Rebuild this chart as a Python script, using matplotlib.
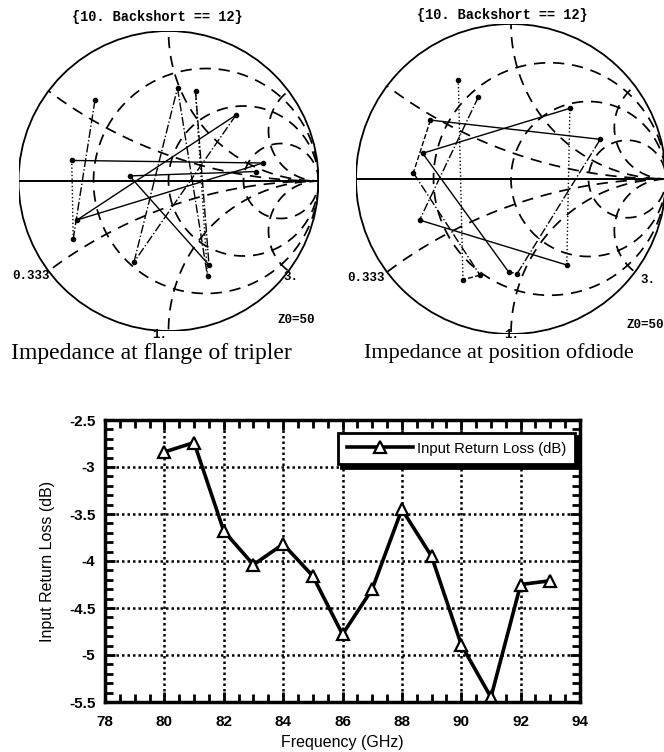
import numpy as np
import matplotlib
matplotlib.use("Agg")
import matplotlib.pyplot as plt
from matplotlib.patches import Circle
from matplotlib.ticker import MultipleLocator

# ---------------- data ----------------
freq_ghz = [80, 81, 82, 83, 84, 85, 86, 87, 88, 89, 90, 91, 92, 93]
return_loss_db = [-2.84, -2.74, -3.68, -4.04, -3.82, -4.16, -4.78, -4.30,
                  -3.45, -3.95, -4.89, -5.45, -4.25, -4.21]
x_ticks = [78, 80, 82, 84, 86, 88, 90, 92, 94]
y_ticks = [-2.5, -3, -3.5, -4, -4.5, -5, -5.5]
y_tick_labels = ['-2.5', '-3', '-3.5', '-4', '-4.5', '-5', '-5.5']

# Smith chart 1: reflection coefficient points (real, imag), in drawing order
flange_re = [-0.49, -0.635, -0.645, 0.63, -0.61, 0.45, -0.23, 0.06, 0.26, 0.18, 0.27, -0.26, 0.58]
flange_im = [0.54, -0.385, 0.137, 0.12, -0.26, 0.44, -0.54, 0.62, -0.635, 0.60, -0.56, 0.034, 0.063]
flange_styles = ['-.', ':', '-', '-', '-', '-.', '-.', '-.', ':', '-.', '-', '-']

# Smith chart 2
diode_re = [-0.21, -0.59, 0.36, 0.38, -0.57, -0.015, 0.04, 0.576, -0.52, -0.63, -0.2, -0.31, -0.34]
diode_im = [0.53, -0.265, -0.555, 0.456, 0.166, -0.6, -0.61, 0.256, 0.38, 0.04, -0.62, -0.65, 0.64]
diode_styles = ['-.', '-', ':', '-', '-', '--', '-.', '-', '--', '-.', '--', ':']

r_grid = [1/3, 1, 3]
x_grid = [1/3, 1, 3]
chart_title = "{10. Backshort == 12}"
caption_left = "Impedance at flange of tripler"
caption_right = "Impedance at position ofdiode"

W, H = 664, 752
fig = plt.figure(figsize=(W/100, H/100), dpi=100)

def fx(px):
    return px / W

def fy(py):
    return 1 - py / H

mono = dict(family='Liberation Mono', fontweight='bold')

def smith(ax_rect, re, im, styles):
    ax = fig.add_axes(ax_rect)
    ax.set_xlim(-1, 1)
    ax.set_ylim(-1, 1)
    ax.axis('off')
    boundary = Circle((0, 0), 1, fill=False, lw=1.3, color='black', zorder=3)
    ax.add_patch(boundary)
    clip = Circle((0, 0), 1, transform=ax.transData)
    t = np.linspace(0, 2*np.pi, 400)
    for r in r_grid:
        c, rad = r/(1+r), 1/(1+r)
        l, = ax.plot(c + rad*np.cos(t), rad*np.sin(t), color='black', lw=1.25,
                     dashes=(6.5, 4.5))
        l.set_clip_path(clip)
    for x in x_grid:
        for s in (1, -1):
            rad = 1/x
            l, = ax.plot(1 + rad*np.cos(t), s*rad + rad*np.sin(t), color='black',
                         lw=1.25, dashes=(6.5, 4.5))
            l.set_clip_path(clip)
    ax.plot([-1, 1], [0, 0], color='black', lw=1.4)
    for k in range(len(re) - 1):
        ax.plot(re[k:k+2], im[k:k+2], color='black', lw=1.0, linestyle=styles[k])
    ax.plot(re, im, 'o', color='black', ms=3)
    return ax

ax1 = smith([fx(18.5), fy(331), fx(300), 300/H], flange_re, flange_im, flange_styles)
ax2 = smith([fx(356), fy(334), fx(310), 310/H], diode_re, diode_im, diode_styles)

# texts for smith charts
fig.text(fx(157), fy(17), chart_title, ha='center', va='center', fontsize=9.8, **mono)
fig.text(fx(502), fy(15), chart_title, ha='center', va='center', fontsize=9.8, **mono)
for (x0, y0, s) in [(31, 276, "0.333"), (160, 335, "1."), (291, 277, "3."), (296, 320, "Z0=50"),
                    (366, 278, "0.333"), (512, 335, "1."), (648, 280, "3."), (645, 325, "Z0=50")]:
    fig.text(fx(x0), fy(y0), s, ha='center', va='center', fontsize=9, **mono)

fig.text(fx(151), fy(353), caption_left, ha='center', va='center',
         fontsize=17, family='Liberation Serif')
fig.text(fx(499), fy(353), caption_right, ha='center', va='center',
         fontsize=16, family='Liberation Serif')

# ---------------- bottom line chart ----------------
ax3 = fig.add_axes([fx(105), fy(702), fx(475), (702-420)/H])
ax3.plot(freq_ghz, return_loss_db, color='black', lw=2.6, marker='^', ms=9,
         mfc='white', mec='black', mew=1.6, label='Input Return Loss (dB)')
ax3.set_xlim(78, 94)
ax3.set_ylim(-5.5, -2.5)
ax3.set_xticks(x_ticks)
ax3.set_yticks(y_ticks)
ax3.set_yticklabels(y_tick_labels)
ax3.xaxis.set_minor_locator(MultipleLocator(0.5))
ax3.yaxis.set_minor_locator(MultipleLocator(0.1))
ax3.grid(True, which='major', color='black', linestyle=(0, (1, 1.2)), lw=1.8)
ax3.tick_params(which='both', direction='in', top=True, right=True, width=2)
ax3.tick_params(which='major', length=7, labelsize=11, pad=7)
ax3.tick_params(which='minor', length=6)
ax3.tick_params(axis='x', which='major', pad=9)
for sp in ax3.spines.values():
    sp.set_linewidth(2.5)
for lab in ax3.get_xticklabels() + ax3.get_yticklabels():
    lab.set_family('Liberation Sans')
    lab.set_fontweight('bold')
ax3.set_xlabel('Frequency (GHz)', fontsize=11.5, family='Liberation Sans', labelpad=5)
ax3.set_ylabel('Input Return Loss (dB)', fontsize=11.5, family='Liberation Sans', labelpad=10)
leg = ax3.legend(loc='upper right', bbox_to_anchor=(0.99, 0.955), borderaxespad=0,
                 frameon=True, fancybox=False, handlelength=4.5, handletextpad=0.3,
                 borderpad=0.6, framealpha=1,
                 shadow={'color': 'black', 'alpha': 1, 'ox': 2.5, 'oy': -2.5},
                 prop={'family': 'Liberation Sans', 'size': 10.6})
leg.get_frame().set_edgecolor('black')
leg.get_frame().set_linewidth(2)

fig.savefig('out.png', dpi=100)
